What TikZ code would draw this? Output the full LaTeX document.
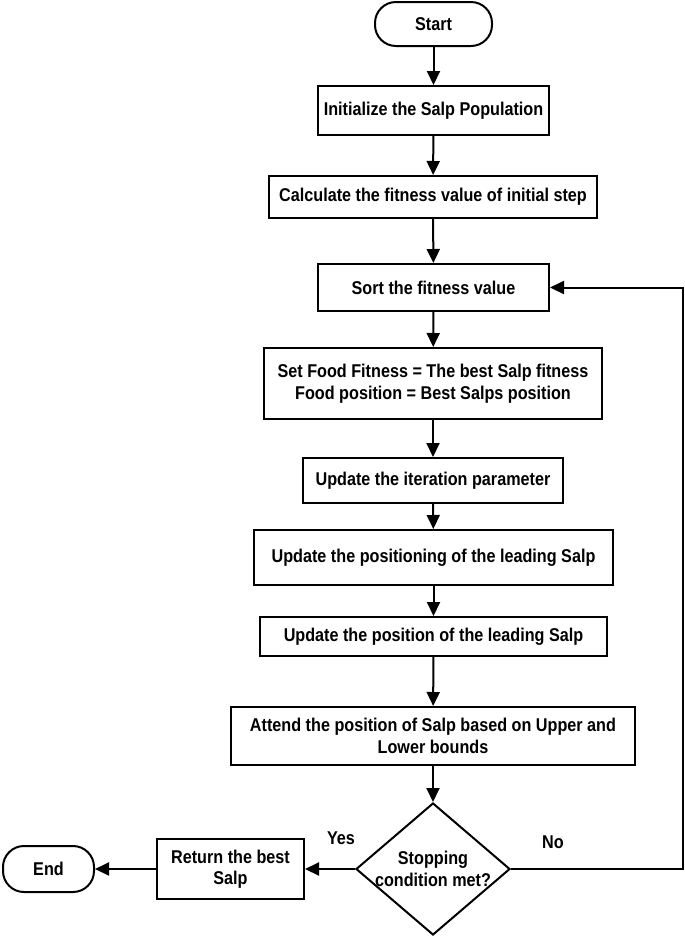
\documentclass[tikz,border=0pt]{standalone}
\usepackage{fontspec}
\setmainfont{Liberation Sans}[FakeStretch=0.875]
\usetikzlibrary{shapes.geometric,arrows.meta}
\begin{document}
\begin{tikzpicture}[x=1pt,y=-1pt,
  every node/.style={font=\bfseries\fontsize{18.5}{21.5}\selectfont},
  box/.style={draw, line width=2pt, rectangle, inner sep=0pt, align=center},
  term/.style={draw, line width=2pt, rectangle, rounded corners=21pt, inner sep=0pt},
  dia/.style={draw, line width=2pt, diamond, inner sep=0pt},
  arr/.style={line width=2pt, -{Triangle[length=14pt,width=13pt]}}]
\useasboundingbox (0,0) rectangle (685,938);
\node[term, minimum width=117pt, minimum height=44pt] (start) at (433.5,24) {Start};
\node[box, minimum width=231pt, minimum height=49pt] (init) at (433.5,110.5) {Initialize the Salp Population};
\node[box, minimum width=328pt, minimum height=42pt] (calc) at (433,197) {Calculate the fitness value of initial step};
\node[box, minimum width=231pt, minimum height=47pt] (sort) at (433.5,287.5) {Sort the fitness value};
\node[box, minimum width=338pt, minimum height=71pt] (food) at (433,383.5) {Set Food Fitness = The best Salp fitness\\Food position = Best Salps position};
\node[box, minimum width=260pt, minimum height=45pt] (iter) at (433,480.5) {Update the iteration parameter};
\node[box, minimum width=359pt, minimum height=55pt] (posing) at (433.5,557.5) {Update the positioning of the leading Salp};
\node[box, minimum width=347pt, minimum height=39pt] (pos) at (433.5,636.5) {Update the position of the leading Salp};
\node[box, minimum width=404pt, minimum height=58pt] (attend) at (433,736) {Attend the position of Salp based on Upper and\\Lower bounds};
\node[dia, minimum width=154pt, minimum height=132pt] (dec) at (433,869) {};
\node[align=center] (dect) at (433,869) {Stopping\\condition met?};
\node[box, minimum width=147pt, minimum height=60pt] (ret) at (230.5,869) {Return the best\\Salp};
\node[term, minimum width=91pt, minimum height=46pt] (end) at (48.5,869) {End};
\node (yes) at (341,838) {Yes};
\node (no) at (553,842) {No};
\coordinate (lp) at (683,869);
\draw[arr] (start) -- (init);
\draw[arr] (init) -- (calc);
\draw[arr] (calc) -- (sort);
\draw[arr] (sort) -- (food);
\draw[arr] (food) -- (iter);
\draw[arr] (iter) -- (posing);
\draw[arr] (posing) -- (pos);
\draw[arr] (pos) -- (attend);
\draw[arr] (attend) -- (dec);
\draw[arr] (dec) -- (ret);
\draw[arr] (ret) -- (end);
\draw[arr] (dec.east) -- (lp) |- (sort.east);
\end{tikzpicture}
\end{document}
